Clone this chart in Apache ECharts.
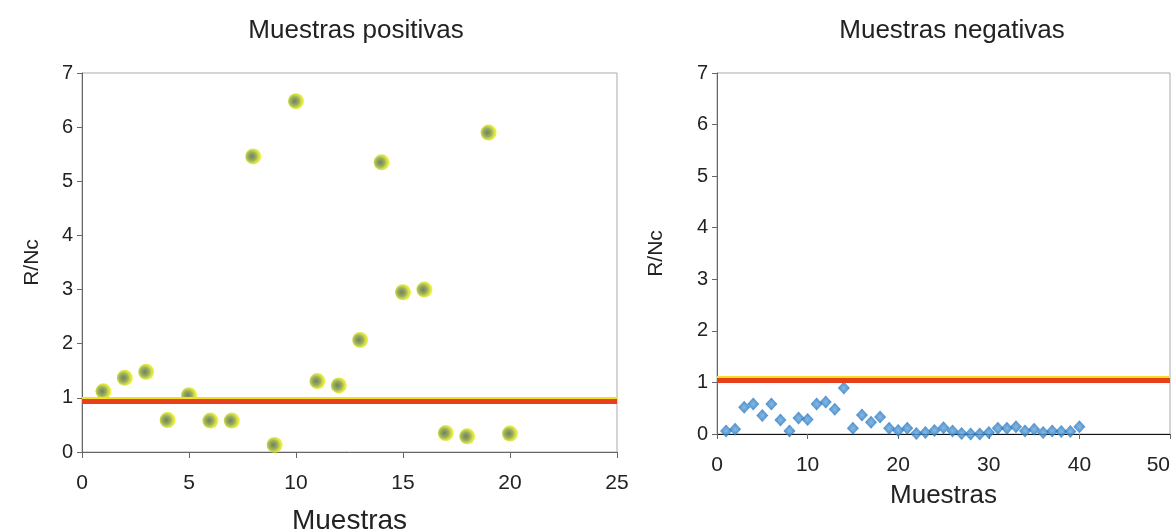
<!DOCTYPE html>
<html>
<head>
<meta charset="utf-8">
<script src="https://cdn.jsdelivr.net/npm/echarts@6/dist/echarts.min.js"></script>
<style>
html,body{margin:0;padding:0;background:#fff;}
#c{width:1176px;height:529px;}
</style>
</head>
<body>
<div id="c"></div>
<script>
// ---- data ----
const posSamples = [1,2,3,4,5,6,7,8,9,10,11,12,13,14,15,16,17,18,19,20];
const posValues  = [1.12,1.37,1.48,0.59,1.05,0.58,0.58,5.46,0.13,6.48,1.31,1.23,2.07,5.35,2.95,3.0,0.35,0.29,5.9,0.34];
const negSamples = [1,2,3,4,5,6,7,8,9,10,11,12,13,14,15,16,17,18,19,20,21,22,23,24,25,26,27,28,29,30,31,32,33,34,35,36,37,38,39,40];
const negValues  = [0.06,0.09,0.52,0.58,0.36,0.58,0.27,0.06,0.31,0.28,0.58,0.62,0.48,0.89,0.11,0.37,0.23,0.33,0.11,0.07,0.11,0.01,0.03,0.07,0.12,0.06,0.01,0.0,0.0,0.03,0.11,0.11,0.14,0.06,0.09,0.03,0.06,0.05,0.05,0.14];
const posCutoff = 0.94;
const negCutoff = 1.04;
const titles = ['Muestras positivas','Muestras negativas'];
const xName = 'Muestras';
const yName = 'R/Nc';

const FONT = '"Liberation Sans", Arial, sans-serif';
const chart = echarts.init(document.getElementById('c'), null, {renderer:'canvas'});

function yAxisCfg(gi, gap){
  return {
    gridIndex: gi, type:'value', min:0, max:7, interval:1,
    name: yName, nameLocation:'middle', nameGap: gap, nameRotate: 90,
    nameTextStyle:{fontFamily:FONT,fontSize:21,color:'#222'},
    axisLine:{show:true,lineStyle:{color:'#666',width:1}},
    axisTick:{show:true,length:5,lineStyle:{color:'#666'}},
    axisLabel:{fontFamily:FONT,fontSize:20,color:'#222',margin:9},
    splitLine:{show:false}
  };
}
function cutLine(v){
  return {
    silent:true, symbol:['none','none'], label:{show:false},
    lineStyle:{color:'#e8401c',width:5,type:'solid',shadowColor:'#f5e020',shadowBlur:0,shadowOffsetY:-2},
    data:[{yAxis:v}]
  };
}

const option = {
  animation:false,
  backgroundColor:'#fff',
  title:[
    {text:titles[0],left:351,top:13,textAlign:'center',textStyle:{fontFamily:FONT,fontSize:26,fontWeight:'normal',color:'#222'}},
    {text:titles[1],left:947,top:13,textAlign:'center',textStyle:{fontFamily:FONT,fontSize:26,fontWeight:'normal',color:'#222'}}
  ],
  grid:[
    {left:82,top:73,width:535,height:379,show:true,borderColor:'#aaa',borderWidth:1,backgroundColor:'transparent',containLabel:false,outerBoundsMode:'none'},
    {left:717,top:73,width:453,height:361,show:true,borderColor:'#aaa',borderWidth:1,backgroundColor:'transparent',containLabel:false,outerBoundsMode:'none'}
  ],
  xAxis:[
    {gridIndex:0,type:'value',min:0,max:25,interval:5,
     name:xName,nameLocation:'middle',nameGap:55,
     nameTextStyle:{fontFamily:FONT,fontSize:28,color:'#222'},
     axisLine:{show:true,onZero:false,lineStyle:{color:'#666'}},
     axisTick:{show:true,length:6,lineStyle:{color:'#666'}},
     axisLabel:{fontFamily:FONT,fontSize:21,color:'#222',margin:21},
     splitLine:{show:false}},
    {gridIndex:1,type:'value',min:0,max:50,interval:10,
     name:xName,nameLocation:'middle',nameGap:49,
     nameTextStyle:{fontFamily:FONT,fontSize:26,color:'#222'},
     axisLine:{show:true,onZero:false,lineStyle:{color:'#111'}},
     axisTick:{show:true,length:5,lineStyle:{color:'#666'}},
     axisLabel:{fontFamily:FONT,fontSize:21,color:'#222',margin:21,alignMaxLabel:'right'},
     splitLine:{show:false}}
  ],
  yAxis:[ yAxisCfg(0,39), yAxisCfg(1,50) ],
  series:[
    {type:'scatter',xAxisIndex:0,yAxisIndex:0,
     data:posSamples.map((x,i)=>[x,posValues[i]]),
     symbol:'circle',symbolSize:16,
     itemStyle:{color:{type:'radial',x:0.42,y:0.5,r:0.58,colorStops:[
       {offset:0,color:'#4f6234'},{offset:0.45,color:'#7f9a33'},{offset:0.75,color:'#cdda1e'},{offset:1,color:'#f4f400'}]}},
     markLine:cutLine(posCutoff),z:3},
    {type:'scatter',xAxisIndex:1,yAxisIndex:1,
     data:negSamples.map((x,i)=>[x,negValues[i]]),
     symbol:'diamond',symbolSize:[12,13],
     itemStyle:{color:{type:'radial',x:0.5,y:0.5,r:0.6,colorStops:[
       {offset:0,color:'#6aa6dc'},{offset:0.6,color:'#2f7fc6'},{offset:1,color:'#1f62a8'}]}},
     markLine:cutLine(negCutoff),z:3}
  ]
};
chart.setOption(option);
</script>
</body>
</html>
